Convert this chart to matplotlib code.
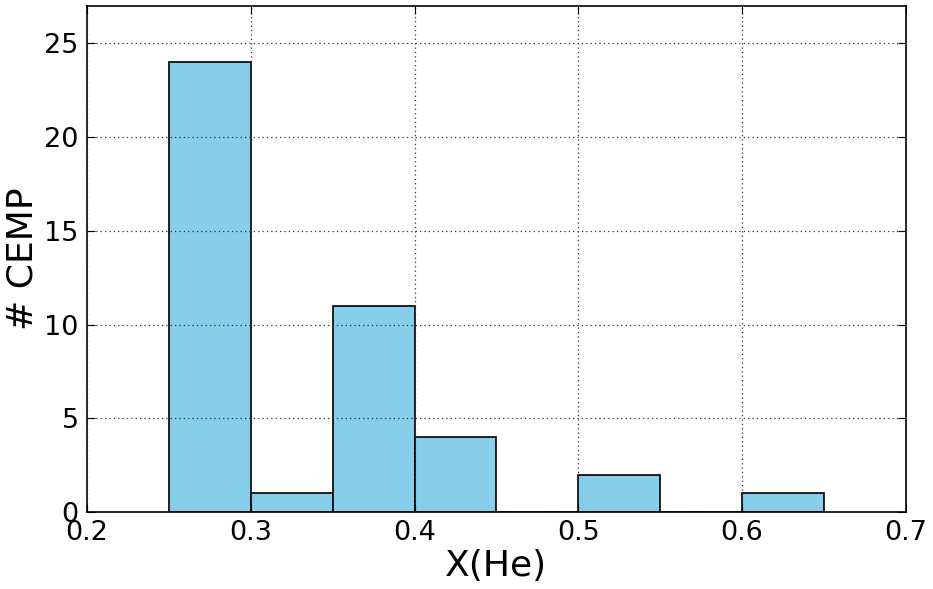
import numpy as np
import matplotlib
matplotlib.use('Agg')
import matplotlib.pyplot as plt

# Гистограмма X(He) для CEMP звёзд
bin_edges = [0.25, 0.30, 0.35, 0.40, 0.45, 0.50, 0.55, 0.60, 0.65]
counts = [24, 1, 11, 4, 0, 2, 0, 1]

fig = plt.figure(figsize=(9.33, 5.89), dpi=100)
ax = fig.add_axes([0.0932, 0.1307, 0.8778, 0.8593])

ax.hist(bin_edges[:-1], bins=bin_edges, weights=counts,
        color='skyblue', edgecolor='black', linewidth=1.2, zorder=2)

ax.set_xlim(0.2, 0.7)
ax.set_ylim(0, 27)
ax.set_xticks([0.2, 0.3, 0.4, 0.5, 0.6, 0.7])
ax.set_yticks([0, 5, 10, 15, 20, 25])
ax.tick_params(direction='in', top=True, right=True, labelsize=19.5, length=6, pad=6)
ax.grid(True, linestyle=(0, (1, 2.5)), color='#333333', linewidth=0.9)
ax.set_axisbelow(False)
for s in ax.spines.values():
    s.set_linewidth(1.2)

ax.set_xlabel('X(He)', fontsize=26, labelpad=2)
ax.set_ylabel('# CEMP', fontsize=26)
ax.yaxis.set_label_coords(-0.058, 0.5)

fig.savefig('out.png', dpi=100)
